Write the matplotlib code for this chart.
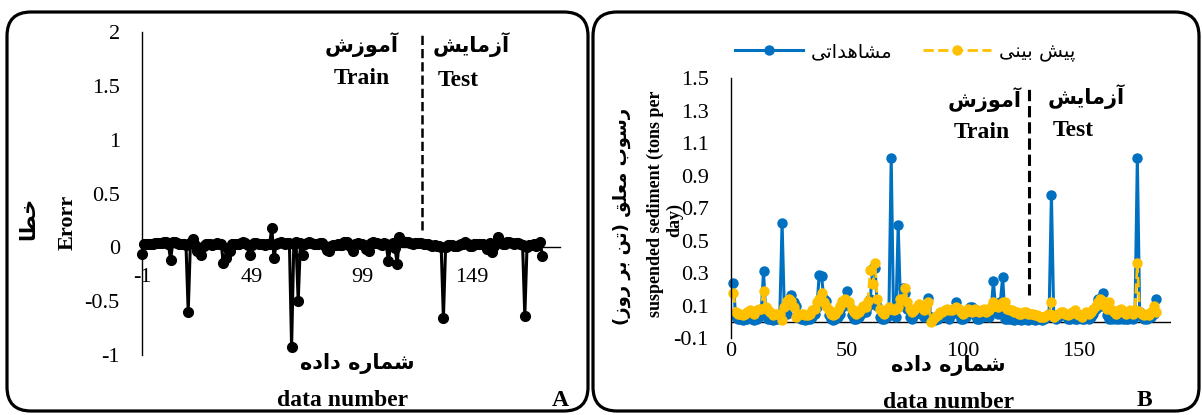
import matplotlib
matplotlib.use("Agg")
import matplotlib.pyplot as plt
from matplotlib.patches import FancyBboxPatch
from matplotlib.transforms import IdentityTransform

plt.rcParams['font.family'] = ['Liberation Serif', 'DejaVu Sans']
plt.rcParams['axes.unicode_minus'] = False

# -----------------------------
# DATA (data number 1..183)
# -----------------------------
observed = [
    0.24, 0.03, 0.02, 0.02, 0.01, 0.02, 0.02, 0.03, 0.02, 0.01,
    0.02, 0.03, 0.05, 0.31, 0.04, 0.02, 0.02, 0.01, 0.02, 0.02,
    0.03, 0.61, 0.05, 0.05, 0.12, 0.165, 0.12, 0.10, 0.04, 0.02,
    0.02, 0.01, 0.02, 0.02, 0.03, 0.05, 0.09, 0.29, 0.28, 0.14,
    0.13, 0.04, 0.02, 0.01, 0.02, 0.03, 0.05, 0.09, 0.12, 0.19,
    0.10, 0.04, 0.02, 0.02, 0.03, 0.05, 0.08, 0.06, 0.10, 0.14,
    0.33, 0.33, 0.10, 0.03, 0.02, 0.02, 0.03, 0.05, 1.007, 0.04,
    0.03, 0.595, 0.10, 0.21, 0.18, 0.08, 0.03, 0.02, 0.04, 0.06,
    0.08, 0.05, 0.03, 0.09, 0.145, 0.03, 0.01, 0.01, 0.02, 0.03,
    0.04, 0.05, 0.03, 0.02, 0.05, 0.08, 0.12, 0.05, 0.02, 0.02,
    0.03, 0.06, 0.09, 0.09, 0.04, 0.02, 0.02, 0.03, 0.05, 0.04,
    0.03, 0.06, 0.25, 0.08, 0.05, 0.12, 0.275, 0.02, 0.02, 0.02,
    0.02, 0.01, 0.02, 0.02, 0.01, 0.02, 0.02, 0.01, 0.02, 0.02,
    0.01, 0.02, 0.02, 0.01, 0.02, 0.03, 0.05, 0.78, 0.03, 0.02,
    0.03, 0.04, 0.05, 0.04, 0.02, 0.02, 0.03, 0.02, 0.02, 0.03,
    0.02, 0.02, 0.03, 0.02, 0.03, 0.05, 0.08, 0.14, 0.10, 0.175,
    0.09, 0.04, 0.02, 0.02, 0.03, 0.02, 0.02, 0.03, 0.02, 0.02,
    0.02, 0.03, 0.02, 0.05, 1.007, 0.06, 0.03, 0.02, 0.02, 0.03,
    0.03, 0.05, 0.14,
]

predicted = [
    0.18, 0.06, 0.05, 0.05, 0.04, 0.05, 0.06, 0.07, 0.06, 0.05,
    0.07, 0.08, 0.08, 0.19, 0.09, 0.07, 0.06, 0.04, 0.05, 0.05,
    0.05, 0.01, 0.09, 0.13, 0.14, 0.13, 0.09, 0.03, 0.05, 0.05,
    0.05, 0.04, 0.04, 0.05, 0.07, 0.08, 0.12, 0.14, 0.18, 0.12,
    0.10, 0.07, 0.05, 0.04, 0.05, 0.07, 0.10, 0.13, 0.14, 0.12,
    0.12, 0.08, 0.06, 0.05, 0.06, 0.08, 0.10, 0.09, 0.13, 0.32,
    0.23, 0.36, 0.14, 0.08, 0.06, 0.05, 0.07, 0.09, 0.08, 0.07,
    0.08, 0.09, 0.14, 0.14, 0.21, 0.12, 0.08, 0.06, 0.07, 0.09,
    0.11, 0.09, 0.07, 0.10, 0.12, 0.00, 0.02, 0.03, 0.04, 0.06,
    0.06, 0.07, 0.08, 0.07, 0.07, 0.08, 0.09, 0.08, 0.06, 0.05,
    0.06, 0.08, 0.07, 0.06, 0.08, 0.07, 0.06, 0.07, 0.08, 0.06,
    0.07, 0.09, 0.12, 0.10, 0.09, 0.11, 0.12, 0.12, 0.08, 0.07,
    0.07, 0.06, 0.06, 0.05, 0.05, 0.06, 0.06, 0.05, 0.05, 0.05,
    0.04, 0.04, 0.03, 0.03, 0.03, 0.04, 0.05, 0.12, 0.03, 0.04,
    0.05, 0.06, 0.06, 0.05, 0.04, 0.05, 0.06, 0.07, 0.05, 0.04,
    0.03, 0.05, 0.06, 0.05, 0.06, 0.08, 0.10, 0.12, 0.14, 0.13,
    0.10, 0.08, 0.12, 0.07, 0.06, 0.05, 0.07, 0.08, 0.06, 0.05,
    0.06, 0.07, 0.05, 0.07, 0.36, 0.06, 0.05, 0.04, 0.05, 0.04,
    0.06, 0.10, 0.06,
]

error = [
    -0.06, 0.03, 0.03, 0.03, 0.03, 0.03, 0.04, 0.04, 0.04, 0.04,
    0.05, 0.05, 0.03, -0.12, 0.05, 0.05, 0.04, 0.03, 0.03, 0.03,
    0.02, -0.60, 0.04, 0.08, 0.02, -0.035, -0.03, -0.07, 0.01, 0.03,
    0.03, 0.03, 0.02, 0.03, 0.04, 0.03, 0.03, -0.15, -0.10, -0.02,
    -0.03, 0.03, 0.03, 0.03, 0.03, 0.04, 0.05, 0.04, 0.02, -0.07,
    0.02, 0.04, 0.04, 0.03, 0.03, 0.03, 0.02, 0.03, 0.03, 0.18,
    -0.10, 0.03, 0.04, 0.05, 0.04, 0.03, 0.04, 0.04, -0.93, 0.03,
    0.05, -0.50, 0.04, -0.07, 0.03, 0.04, 0.05, 0.04, 0.03, 0.03,
    0.03, 0.04, 0.04, 0.01, -0.025, -0.03, 0.01, 0.02, 0.02, 0.03,
    0.02, 0.02, 0.05, 0.05, 0.02, 0.00, -0.03, 0.03, 0.04, 0.03,
    0.03, 0.02, -0.02, -0.03, 0.04, 0.05, 0.04, 0.04, 0.03, 0.02,
    0.04, 0.03, -0.13, 0.02, 0.04, -0.01, -0.155, 0.10, 0.06, 0.05,
    0.05, 0.05, 0.04, 0.03, 0.04, 0.04, 0.04, 0.04, 0.03, 0.03,
    0.03, 0.02, 0.01, 0.02, 0.01, 0.01, 0.00, -0.66, 0.00, 0.02,
    0.02, 0.02, 0.01, 0.01, 0.02, 0.03, 0.03, 0.05, 0.03, 0.01,
    0.01, 0.03, 0.03, 0.03, 0.03, 0.03, 0.02, -0.02, 0.04, -0.045,
    0.01, 0.04, 0.10, 0.05, 0.03, 0.03, 0.05, 0.05, 0.04, 0.03,
    0.04, 0.04, 0.03, 0.02, -0.64, 0.00, 0.02, 0.02, 0.03, 0.01,
    0.03, 0.05, -0.08,
]

x_b = list(range(1, len(observed) + 1))
x_a = [v - 2 for v in x_b]   # panel A axis starts at -1

a_yticks = [-1, -0.5, 0, 0.5, 1, 1.5, 2]
a_yticklabels = ['-1', '-0.5', '0', '0.5', '1', '1.5', '2']
a_xticks = [-1, 49, 99, 149]
a_xticklabels = ['-1', '49', '99', '149']
b_yticks = [-0.1, 0.1, 0.3, 0.5, 0.7, 0.9, 1.1, 1.3, 1.5]
b_xticks = [0, 50, 100, 150]
split_a = 126.5
split_b = 128.4

# -----------------------------
# simple persian shaping (matplotlib does no text shaping)
# -----------------------------
FORMS = {
    'ا': ('\uFE8D', '\uFE8E'), 'آ': ('\uFE81', '\uFE82'),
    'د': ('\uFEA9', '\uFEAA'), 'ر': ('\uFEAD', '\uFEAE'),
    'ز': ('\uFEAF', '\uFEB0'), 'و': ('\uFEED', '\uFEEE'),
    'ب': ('\uFE8F', '\uFE90', '\uFE91', '\uFE92'),
    'پ': ('\uFB56', '\uFB57', '\uFB58', '\uFB59'),
    'ت': ('\uFE95', '\uFE96', '\uFE97', '\uFE98'),
    'خ': ('\uFEA5', '\uFEA6', '\uFEA7', '\uFEA8'),
    'س': ('\uFEB1', '\uFEB2', '\uFEB3', '\uFEB4'),
    'ش': ('\uFEB5', '\uFEB6', '\uFEB7', '\uFEB8'),
    'ط': ('\uFEC1', '\uFEC2', '\uFEC3', '\uFEC4'),
    'ع': ('\uFEC9', '\uFECA', '\uFECB', '\uFECC'),
    'ق': ('\uFED5', '\uFED6', '\uFED7', '\uFED8'),
    'ل': ('\uFEDD', '\uFEDE', '\uFEDF', '\uFEE0'),
    'م': ('\uFEE1', '\uFEE2', '\uFEE3', '\uFEE4'),
    'ن': ('\uFEE5', '\uFEE6', '\uFEE7', '\uFEE8'),
    'ه': ('\uFEE9', '\uFEEA', '\uFEEB', '\uFEEC'),
    'ی': ('\uFBFC', '\uFBFD', '\uFBFE', '\uFBFF'),
}


def fa(text):
    out = []
    for i, c in enumerate(text):
        if c not in FORMS:
            out.append(c)
            continue
        prev = text[i - 1] if i > 0 else ''
        nxt = text[i + 1] if i + 1 < len(text) else ''
        jp = prev in FORMS and len(FORMS[prev]) == 4
        jn = len(FORMS[c]) == 4 and nxt in FORMS
        f = FORMS[c]
        if jp and jn:
            out.append(f[3])
        elif jp:
            out.append(f[1])
        elif jn:
            out.append(f[2])
        else:
            out.append(f[0])
    mirror = {'(': ')', ')': '('}
    return ''.join(mirror.get(c, c) for c in reversed(out))


W, H = 1202, 415
fig = plt.figure(figsize=(W / 100, H / 100), dpi=100)


def txt(x, y, s, size, bold=True, persian=False, rot=0):
    fam = 'DejaVu Sans' if persian else ['Liberation Serif', 'DejaVu Sans']
    fig.text(x / W, 1 - y / H, s, ha='center', va='center', fontsize=size,
             fontweight='bold' if bold else 'normal', family=fam, rotation=rot)


# rounded frames
for x0, w in [(7, 581), (593, 606)]:
    box = FancyBboxPatch((x0, 4), w, 399, boxstyle='round,pad=0,rounding_size=24',
                         fill=False, ec='black', lw=2.3, transform=IdentityTransform())
    fig.add_artist(box)

# -----------------------------
# PANEL A: error
# -----------------------------
ax = fig.add_axes([142 / W, 1 - 355 / H, 418 / W, 323 / H])
ax.plot(x_a, error, color='black', lw=2.2, marker='o', ms=7, clip_on=False)
ax.plot([split_a, split_a], [0.16, 2.0], color='black', ls='--', lw=1.8)
ax.set_xlim(-1, 189)
ax.set_ylim(-1, 2)
ax.set_xticks(a_xticks)
ax.set_xticklabels(a_xticklabels)
ax.set_yticks(a_yticks)
ax.set_yticklabels(a_yticklabels)
for s in ['top', 'right']:
    ax.spines[s].set_visible(False)
ax.spines['bottom'].set_position(('data', 0))
ax.spines['bottom'].set_linewidth(1)
ax.spines['left'].set_linewidth(1)
ax.tick_params(axis='x', length=0, pad=15, labelsize=16)
ax.tick_params(axis='y', length=0, pad=16, labelsize=16)
ax.patch.set_visible(False)

txt(362, 45, fa('آموزش'), 15, persian=True)
txt(362, 78, 'Train', 17)
txt(471, 45, fa('آزمایش'), 15, persian=True)
txt(458, 80, 'Test', 17)
txt(28, 218, fa('خطا'), 15, persian=True, rot=90)
txt(68, 222, 'Erorr', 16, rot=90)
txt(357, 363, fa('شماره داده'), 15, persian=True)
txt(343, 400, 'data number', 17)
txt(560, 400, 'A', 17)

# -----------------------------
# PANEL B: observed vs predicted
# -----------------------------
bx = fig.add_axes([731 / W, 1 - 338 / H, 440 / W, 260 / H])
bx.axhline(0, color='black', lw=1)
bx.plot(x_b, observed, color='#0070C0', lw=2.2, marker='o', ms=6.5,
        label=fa('مشاهداتی'), clip_on=False)
bx.plot(x_b, predicted, color='#FFC000', lw=2, ls='--', marker='o', ms=6.5,
        label=fa('پیش بینی'), clip_on=False)
bx.plot([split_b, split_b], [0.165, 1.457], color='black', ls='--', lw=2.2)
bx.set_xlim(0, 189.5)
bx.set_ylim(-0.1, 1.5)
bx.set_xticks(b_xticks)
bx.set_yticks(b_yticks)
bx.set_yticklabels(['%.1f' % v for v in b_yticks])
for s in ['top', 'right', 'bottom']:
    bx.spines[s].set_visible(False)
bx.spines['left'].set_linewidth(1)
bx.tick_params(axis='x', length=0, pad=3, labelsize=16)
bx.tick_params(axis='y', length=0, pad=16, labelsize=16)
bx.patch.set_visible(False)

fig.legend(loc='center', bbox_to_anchor=(905 / W, 1 - 52 / H), ncol=2, frameon=False,
           prop={'family': 'DejaVu Sans', 'size': 14}, handlelength=3.5,
           handletextpad=0.4, columnspacing=1.6)

txt(985, 100, fa('آموزش'), 15, persian=True)
txt(982, 132, 'Train', 17)
txt(1086, 97, fa('آزمایش'), 15, persian=True)
txt(1073, 131, 'Test', 17)
txt(948, 365, fa('شماره داده'), 15, persian=True)
txt(949, 402, 'data number', 17)
txt(1144, 400, 'B', 17)
txt(622, 216, fa('رسوب معلق (تن بر روز)'), 13, persian=True, rot=90)
txt(655, 204, 'suspended sediment (tons per', 13, rot=90)
txt(675, 220, 'day)', 13, rot=90)

fig.savefig('out.png', dpi=100)
